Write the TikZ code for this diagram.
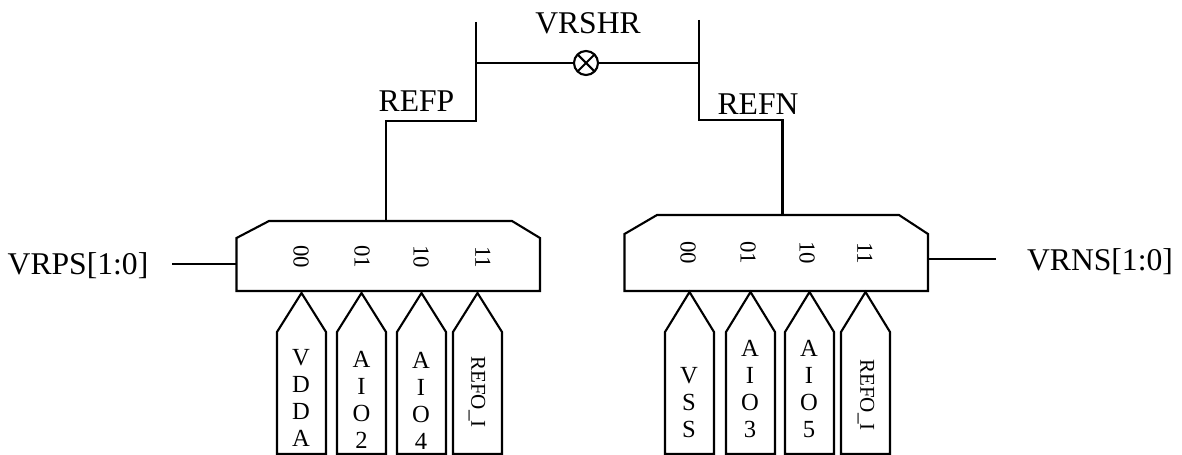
\documentclass[tikz,border=0pt]{standalone}
\usepackage{fontspec}
\setmainfont{Liberation Serif}
\usetikzlibrary{positioning,calc}
\def\px{0.02cm}
\tikzset{
  wire/.style={line width=1.2pt},
  muxbox/.style={rectangle,inner sep=0pt,outer sep=0pt,minimum width=303.5*\px},
  sig/.style={font=\fontsize{18}{20}\selectfont,inner sep=0pt},
  bit/.style={font=\fontsize{13}{14}\selectfont,inner sep=0pt,rotate=-90},
  pinlabel/.style={font=\fontsize{14}{15.4}\selectfont,inner sep=0pt,align=center},
  pinname/.style={font=\fontsize{12}{14}\selectfont,inner sep=0pt,rotate=-90},
  xswitch/.style={draw,circle,line width=1.2pt,minimum size=24*\px,inner sep=0pt,outer sep=0pt,
    path picture={\draw[line width=1.2pt] (path picture bounding box.north west) -- (path picture bounding box.south east)
      (path picture bounding box.north east) -- (path picture bounding box.south west);}}
}
\begin{document}
\begin{tikzpicture}[x=0.02cm,y=-0.02cm]
  \useasboundingbox (0,0) rectangle (1182,455);

  % Selector boxes
  \node[muxbox,minimum height=70*\px] (muxL) at (388.25,256) {};
  \node[muxbox,minimum height=76*\px] (muxR) at (776.25,253) {};
  \draw[wire,line join=miter] (muxL.south west) -- (236.5,238) -- (269,221) -- (512,221) -- (540,238) -- (muxL.south east) -- cycle;
  \draw[wire,line join=miter] (muxR.south west) -- (624.5,234) -- (657,215) -- (899,215) -- (928,234) -- (muxR.south east) -- cycle;

  % Select codes
  \foreach \code/\xl/\xr in {00/301/688,01/362/748,10/421/807,11/483/865} {
    \node[bit] (bitL\code) at (\xl,257) {\code};
    \node[bit] (bitR\code) at (\xr,253) {\code};
  }

  % Input pins: left edge, tip height follows the box above
  \foreach \x/\tip in {277/293,337/293,397/293,453/293,665/292,726/292,785/292,841/292} {
    \draw[wire,line join=miter] (\x,454) -- (\x,332) -- (\x+24.5,\tip) -- (\x+49,332) -- (\x+49,454) -- cycle;
  }
  \node[pinlabel] (pinVDDA) at (301,398) {V\\D\\D\\A};
  \node[pinlabel] (pinAIOb) at (361.5,400) {A\\I\\O\\2};
  \node[pinlabel] (pinAIOd) at (421,401) {A\\I\\O\\4};
  \node[pinname] (pinREFOL) at (477,392) {REFO\_I};
  \node[pinlabel] (pinVSS) at (689,403) {V\\S\\S};
  \node[pinlabel] (pinAIOc) at (750,389) {A\\I\\O\\3};
  \node[pinlabel] (pinAIOe) at (809,389) {A\\I\\O\\5};
  \node[pinname] (pinREFOR) at (866,395) {REFO\_I};

  % Share switch and reference rails
  \node[xswitch] (shr) at (586,63) {};
  \node[sig] (lblshr) at (588,23) {VRSHR};
  \coordinate (railP) at (476,63);
  \coordinate (railN) at (699,63);
  \coordinate (railPtop) at (476,22);
  \coordinate (railNtop) at (699,20);
  \coordinate (refpin) at (386,221);
  \coordinate (refnin) at (782.5,215);
  \draw[wire] (railP) -- (shr) -- (railN);
  \draw[wire] (railPtop) -- (476,121) -| (refpin);
  \draw[wire] (railNtop) -- (699,120) -| (refnin);
  \node[sig] (lblrefp) at (416.5,101) {REFP};
  \node[sig] (lblrefn) at (758,104) {REFN};

  % Select inputs
  \node[sig] (lblvrps) at (78,266) {VRPS[1:0]};
  \node[sig] (lblvrns) at (1100,262) {VRNS[1:0]};
  \coordinate (vrpsend) at (172,264);
  \coordinate (vrnsend) at (996,259);
  \draw[wire] (vrpsend) -- (vrpsend -| muxL.west);
  \draw[wire] (vrnsend) -- (vrnsend -| muxR.east);
\end{tikzpicture}
\end{document}
